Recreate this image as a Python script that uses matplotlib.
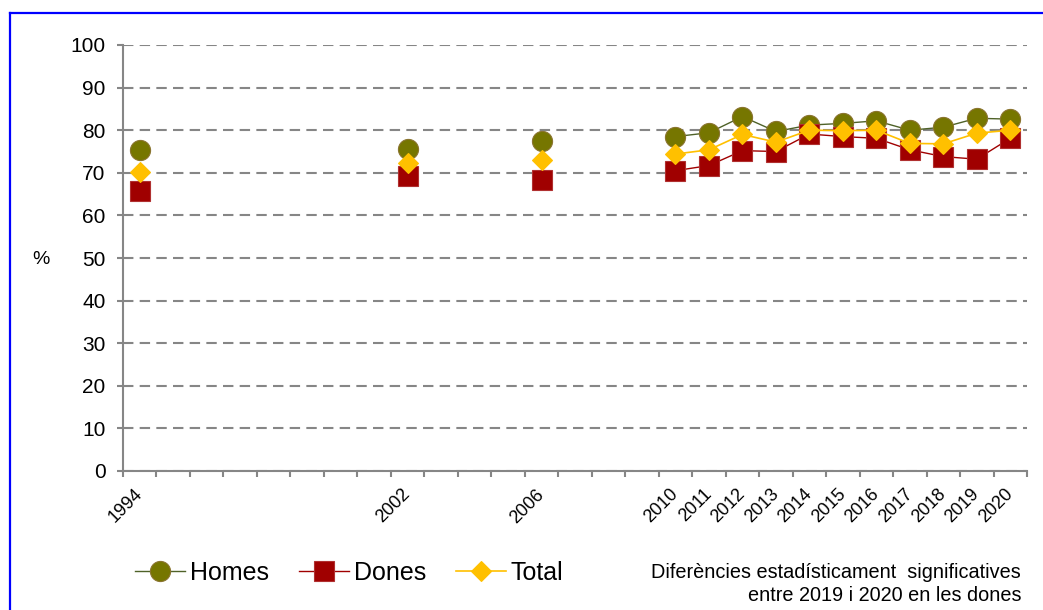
import matplotlib.pyplot as plt
import pandas as pd
from matplotlib.lines import Line2D

plt.rcParams['font.family'] = ['Liberation Sans', 'DejaVu Sans']

years = [1994, 2002, 2006, 2010, 2011, 2012, 2013, 2014, 2015, 2016, 2017, 2018, 2019, 2020]
homes = [75.4, 75.7, 77.5, 78.5, 79.4, 83.2, 79.7, 81.2, 81.6, 82.2, 80.0, 80.7, 82.8, 82.6]
dones = [65.7, 69.2, 68.3, 70.5, 71.7, 75.2, 75.0, 79.1, 78.5, 78.1, 75.4, 73.8, 73.2, 78.1]
total = [70.2, 72.4, 73.0, 74.4, 75.4, 79.0, 77.2, 80.0, 79.9, 80.0, 76.9, 76.8, 79.3, 80.0]

note = "Diferències estadísticament  significatives\nentre 2019 i 2020 en les dones"

W, H = 1043, 610
fig = plt.figure(figsize=(W / 100, H / 100), dpi=100)
ax = fig.add_axes([123 / W, 1 - 471 / H, (1027 - 123) / W, (471 - 45) / H])

# every year gets a slot; missing years stay empty so lines break there
all_years = range(years[0], years[-1] + 1)
series = [
    ("Homes", homes, "o", 14.5, "#767600", "#8a7430", "#4f6228", 1.0),
    ("Dones", dones, "s", 14.0, "#a00000", "#b03030", "#a00000", 1.0),
    ("Total", total, "D", 10.0, "#ffc000", "#ffc000", "#ffc000", 1.2),
]
for name, vals, mk, ms, fc, ec, lc, lw in series:
    s = pd.Series(vals, index=years).reindex(all_years)
    ax.plot(s.index, s.values, color=lc, lw=lw, marker=mk, markersize=ms,
            markerfacecolor=fc, markeredgecolor=ec, markeredgewidth=0.8,
            label=name, zorder=3)

ax.set_xlim(years[0] - 0.5, years[-1] + 0.5)
ax.set_ylim(0, 100)
ax.set_yticks(range(0, 101, 10))
ax.yaxis.grid(True, color="#868686", lw=1.5, dashes=(5, 3))
ax.set_axisbelow(True)

ax.set_xticks(years)
ax.set_xticklabels([str(y) for y in years], rotation=45, ha="right", va="center",
                   rotation_mode="anchor", fontsize=13)
ax.set_xticks([y - 0.5 for y in all_years] + [years[-1] + 0.5], minor=True)
ax.tick_params(axis="x", which="major", length=0, pad=15)
ax.tick_params(axis="x", which="minor", length=4, width=1.5, color="#868686")
ax.tick_params(axis="y", length=4.5, width=1.5, color="#868686", labelsize=15, pad=8)

for side in ("top", "right"):
    ax.spines[side].set_visible(False)
for side in ("left", "bottom"):
    ax.spines[side].set_color("#868686")
    ax.spines[side].set_linewidth(1.5)

fig.text(41 / W, 1 - 259 / H, "%", fontsize=14, ha="center", va="center")

fig.legend(loc="center left", bbox_to_anchor=(122 / W, 1 - 573 / H), ncol=3,
           frameon=False, fontsize=18, handlelength=2.0, handletextpad=0.2,
           columnspacing=1.2, borderpad=0)

fig.text(1021 / W, 1 - 584 / H, note, fontsize=14.3, ha="right", va="center",
         linespacing=1.3)

# blue frame around the figure
fig.add_artist(Line2D([10 / W, 10 / W], [0, 1 - 13 / H], transform=fig.transFigure,
                      color="#0000ff", lw=1.6))
fig.add_artist(Line2D([10 / W, 1], [1 - 13 / H, 1 - 13 / H], transform=fig.transFigure,
                      color="#0000ff", lw=1.6))

fig.savefig("out.png", dpi=100)
